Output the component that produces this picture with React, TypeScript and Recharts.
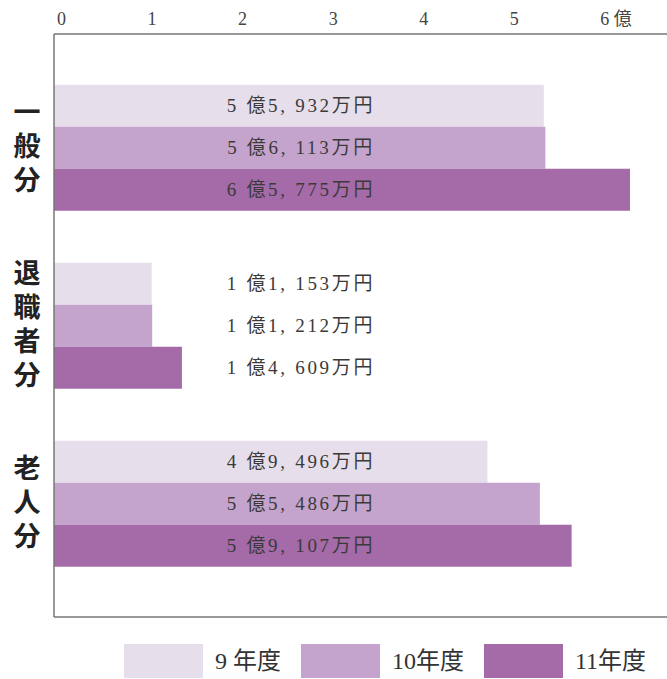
import React from 'react';
import { BarChart, Bar, XAxis, YAxis, Legend, LabelList } from 'recharts';

// Values in 万円
const categories = ['一般分', '退職者分', '老人分'];
const fy9 = [55932, 11153, 49496];
const fy10 = [56113, 11212, 55486];
const fy11 = [65775, 14609, 59107];
const seriesNames = ['9 年度', '10年度', '11年度'];
const seriesKeys = ['fy9', 'fy10', 'fy11'];
const seriesColors = ['#e6dfeb', '#c4a4cc', '#a56aa8'];
const axisTicks = [0, 1, 2, 3, 4, 5, 6];
const tickLabels = ['0', '1', '2', '3', '4', '5', '6 億'];

const data = categories.map((name, i) => ({
  name,
  fy9: fy9[i] / 10000,
  fy10: fy10[i] / 10000,
  fy11: fy11[i] / 10000,
}));

const FONT = '"Liberation Serif", "DejaVu Serif", "Noto Sans CJK JP", serif';
const CJK = '"Noto Sans CJK JP", sans-serif';

const formatOku = (v: number) => {
  const man = Math.round(v * 10000);
  const oku = Math.floor(man / 10000);
  const rest = man % 10000;
  const th = Math.floor(rest / 1000);
  const low = String(rest % 1000).padStart(3, '0');
  return `${oku} 億${th}, ${low}万円`;
};

const TopTick = (props: any) => {
  const { x, y, payload, index } = props;
  const label = tickLabels[axisTicks.indexOf(payload?.value)] ?? tickLabels[index] ?? String(payload?.value);
  return (
    <text x={Number(x) + 3} y={Number(y) - 9} textAnchor="start" fontSize={18} fill="#444" fontFamily={FONT}>
      {label}
    </text>
  );
};

const CatTick = (props: any) => {
  const { x, y, payload } = props;
  return (
    <text
      x={x - 27}
      y={y + 2}
      textAnchor="middle"
      fontSize={27}
      fontWeight={700}
      fill="#222"
      fontFamily={CJK}
      letterSpacing={7}
      style={{ writingMode: 'vertical-rl' } as any}
    >
      {String(payload.value)}
    </text>
  );
};

const BarLabel = (props: any) => {
  const { x, y, height, value } = props;
  return (
    <text
      x={x + 247}
      y={y + height / 2}
      textAnchor="middle"
      dominantBaseline="central"
      fontSize={19}
      letterSpacing={2.7}
      fill="#3a3a3a"
      fontFamily={FONT}
    >
      {formatOku(value)}
    </text>
  );
};

const LegendContent = () => (
  <div style={{ height: 60, display: 'flex', alignItems: 'flex-end', paddingLeft: 124, boxSizing: 'border-box' }}>
    {seriesNames.map((name, i) => (
      <div key={name} style={{ display: 'flex', alignItems: 'center', marginRight: 20 }}>
        <div style={{ width: 79, height: 34, background: seriesColors[i], marginRight: 12 }} />
        <span style={{ fontSize: 24, lineHeight: '34px', color: '#333', fontFamily: FONT }}>{name}</span>
      </div>
    ))}
  </div>
);

export default function App() {
  return (
    <div style={{ position: 'absolute', left: 0, top: 0, width: 667, height: 679, background: '#fff', fontFamily: FONT }}>
      <BarChart
        width={667}
        height={679}
        data={data}
        layout="vertical"
        margin={{ top: 0, right: 0, bottom: 1, left: 0 }}
        barCategoryGap="15%"
        barGap={0}
      >
        <XAxis
          xAxisId="top"
          type="number"
          orientation="top"
          domain={[0, 6.77]}
          allowDataOverflow
          ticks={axisTicks}
          height={34}
          tickLine={false}
          tickSize={0}
          tickMargin={0}
          axisLine={{ stroke: '#777', strokeWidth: 1.5 }}
          tick={TopTick}
          interval={0}
        />
        <XAxis
          xAxisId="bars"
          type="number"
          orientation="bottom"
          domain={[0, 7]}
          allowDataOverflow
          height={1}
          tick={false}
          tickLine={false}
          axisLine={{ stroke: '#777', strokeWidth: 1.5 }}
        />
        <YAxis
          type="category"
          dataKey="name"
          width={54}
          tickLine={false}
          tickSize={0}
          tickMargin={0}
          axisLine={{ stroke: '#777', strokeWidth: 1.5 }}
          tick={CatTick}
          padding={{ top: 24, bottom: 25 }}
          interval={0}
        />
        <Legend verticalAlign="bottom" content={LegendContent} />
        {seriesKeys.map((k, i) => (
          <Bar key={k} xAxisId="bars" dataKey={k} name={seriesNames[i]} fill={seriesColors[i]} isAnimationActive={false}>
            <LabelList dataKey={k} content={BarLabel} />
          </Bar>
        ))}
      </BarChart>
    </div>
  );
}
